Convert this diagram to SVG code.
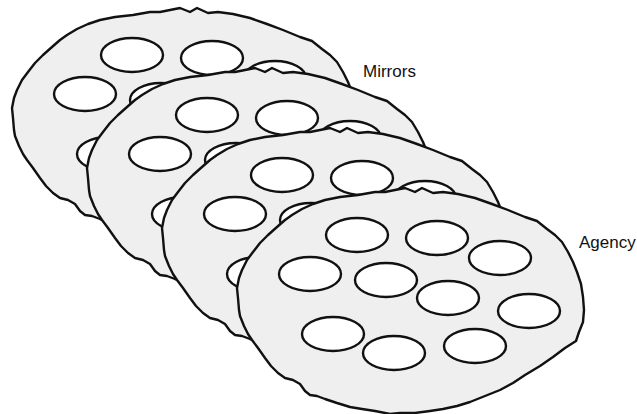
<svg xmlns="http://www.w3.org/2000/svg" xmlns:xlink="http://www.w3.org/1999/xlink" width="637" height="414" viewBox="0 0 637 414">
<style>
.blob{fill:#efefef;stroke:#111;stroke-width:2.4;stroke-linejoin:round}
.cell{fill:#fff;stroke:#111;stroke-width:2.4}
.lbl{font-family:"Liberation Sans",Arial,sans-serif;font-size:17px;fill:#111}
</style>
<defs>
<g id="layer">
<path class="blob" d="M100,20 L115,17 L133,15 L150,12 L160,12 L170,10 L180,8 L190,12 L197,8 L208,13 L218,12 L233,14 L250,18 L267,24 L283,30 L300,37 L312,41 L322,49 L330,55 L337,62 L343,72 L348,82 L352,92 L356,104 L358,117 L359,130 L358,142 L354,152 L351,161 L340,168 L328,177 L315,186 L300,195 L288,203 L275,210 L260,216 L245,222 L232,226 L218,229 L205,231 L190,233 L175,233 L165,234 L150,231 L137,229 L125,227 L112,223 L100,219 L92,216 L85,215 L80,211 L75,204 L68,200 L60,198 L53,193 L46,186 L40,178 L33,168 L27,160 L23,154 L19,146 L15,136 L14,130 L13,118 L12,108 L14,98 L17,90 L22,80 L28,72 L35,63 L43,55 L52,47 L60,40 L67,35 L77,29 L88,24 Z"/>
<ellipse class="cell" cx="132" cy="55" rx="31" ry="17"/>
<ellipse class="cell" cx="212" cy="58" rx="31" ry="17"/>
<ellipse class="cell" cx="275" cy="78" rx="31" ry="17"/>
<ellipse class="cell" cx="85" cy="94" rx="31" ry="17"/>
<ellipse class="cell" cx="161" cy="100" rx="31" ry="17"/>
<ellipse class="cell" cx="223" cy="118" rx="31" ry="17"/>
<ellipse class="cell" cx="304" cy="131" rx="31" ry="17"/>
<ellipse class="cell" cx="108" cy="154" rx="31" ry="17"/>
<ellipse class="cell" cx="169" cy="173" rx="31" ry="17"/>
<ellipse class="cell" cx="250" cy="166" rx="31" ry="17"/>
</g>
</defs>
<g id="mirror1"><use xlink:href="#layer" href="#layer" transform="translate(0,0)"/></g>
<g id="mirror2"><use xlink:href="#layer" href="#layer" transform="translate(75,60)"/></g>
<g id="mirror3"><use xlink:href="#layer" href="#layer" transform="translate(150,120)"/></g>
<g id="agency"><use xlink:href="#layer" href="#layer" transform="translate(225,180)"/></g>
<g id="connectors"></g>
<g id="labels">
<text class="lbl" x="363" y="77">Mirrors</text>
<text class="lbl" x="579" y="248">Agency</text>
</g>
</svg>
